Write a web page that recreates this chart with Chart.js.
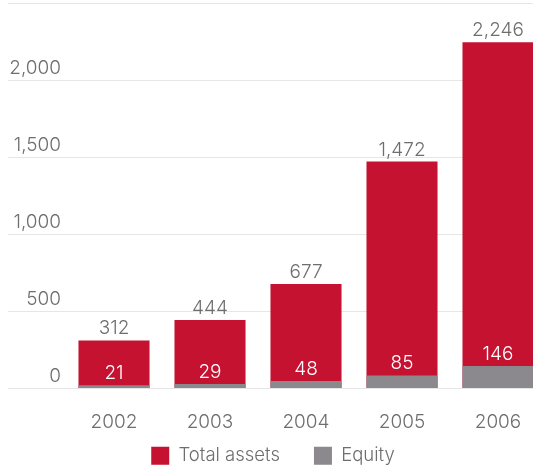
<!DOCTYPE html>
<html>
<head>
<meta charset="utf-8">
<title>Total assets and equity</title>
<script src="https://cdn.jsdelivr.net/npm/chart.js@4/dist/chart.umd.min.js"></script>
<style>
  html, body { margin: 0; padding: 0; background: #ffffff; overflow: hidden; }
  #wrap { position: relative; width: 561px; height: 469px; }
</style>
</head>
<body>
<div id="wrap"><canvas id="chart"></canvas></div>
<script>
// Figures per year
const years = ['2002', '2003', '2004', '2005', '2006'];
const totalAssets = [312, 444, 677, 1472, 2246];
const equity = [21, 29, 48, 85, 146];
const yTicks = [0, 500, 1000, 1500, 2000, 2500];

const RED = '#c41230';
const GREY = '#8b898e';
const TEXT = '#6e6e6e';
const GRID = '#e6e6e6';
const FONT = 'Inter';
const NUM_SIZE = 19;

const fmt = v => v.toLocaleString('en-US');

// Value labels: totals above each bar, equity in white inside the red bar
const valueLabels = {
  id: 'valueLabels',
  afterDatasetsDraw(chart) {
    const ctx = chart.ctx;
    ctx.save();
    ctx.font = '300 ' + NUM_SIZE + 'px ' + FONT;
    ctx.textAlign = 'center';
    ctx.textBaseline = 'alphabetic';
    chart.data.datasets.forEach((ds, di) => {
      const meta = chart.getDatasetMeta(di);
      ctx.fillStyle = di === 0 ? TEXT : '#ffffff';
      meta.data.forEach((el, i) => {
        ctx.fillText(fmt(ds.data[i]), el.x, el.y - 6);
      });
    });
    ctx.restore();
  }
};

new Chart(document.getElementById('chart'), {
  type: 'bar',
  data: {
    labels: years,
    datasets: [
      { label: 'Total assets', data: totalAssets, backgroundColor: RED, borderWidth: 0, order: 1 },
      { label: 'Equity', data: equity, backgroundColor: GREY, borderWidth: 0, order: 0 }
    ]
  },
  options: {
    responsive: true,
    maintainAspectRatio: false,
    animation: false,
    layout: { padding: { top: 3, left: 0, right: 15, bottom: -6 } },
    datasets: { bar: { grouped: false, categoryPercentage: 1, barPercentage: 0.74 } },
    scales: {
      x: {
        afterFit(scale) { scale.height = 24; },
        grid: { display: false },
        border: { display: false },
        ticks: {
          color: TEXT,
          font: { family: FONT, size: NUM_SIZE, weight: '300' },
          mirror: true,
          padding: -45,
          autoSkip: false,
          maxRotation: 0,
          minRotation: 0
        }
      },
      y: {
        min: 0,
        max: 2500,
        afterBuildTicks(scale) { scale.ticks = yTicks.map(v => ({ value: v })); },
        afterFit(scale) { scale.width = 66; },
        border: { display: false },
        grid: { color: GRID, lineWidth: 1, drawTicks: true, tickLength: 58 },
        ticks: {
          color: TEXT,
          font: { family: FONT, size: NUM_SIZE, weight: '300' },
          padding: -53,
          labelOffset: -12,
          callback: v => (v === 2500 ? '' : fmt(v))
        }
      }
    },
    plugins: {
      tooltip: { enabled: false },
      legend: {
        position: 'bottom',
        labels: {
          color: TEXT,
          font: { family: FONT, size: 18.5, weight: '300' },
          boxWidth: 18,
          boxHeight: 18,
          padding: 34,
          sort: (a, b) => a.datasetIndex - b.datasetIndex
        }
      }
    }
  },
  plugins: [valueLabels]
});
</script>
</body>
</html>
